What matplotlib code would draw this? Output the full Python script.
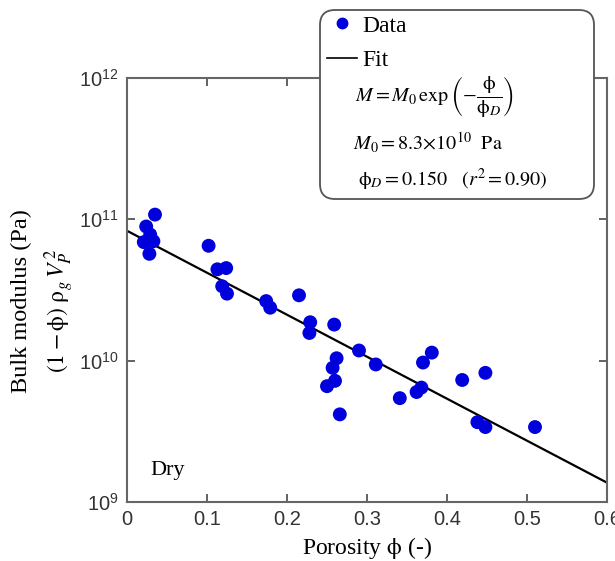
import numpy as np
import matplotlib
matplotlib.use("Agg")
import matplotlib.pyplot as plt
from matplotlib.lines import Line2D
from matplotlib.patches import FancyBboxPatch
from matplotlib.transforms import IdentityTransform
from matplotlib.ticker import FixedLocator, FuncFormatter, NullLocator

plt.rcParams['font.family'] = ['Liberation Sans', 'DejaVu Sans']
plt.rcParams['mathtext.fontset'] = 'dejavusans'

# data
porosity = [0.035, 0.024, 0.029, 0.021, 0.033, 0.028,
            0.102, 0.113, 0.124, 0.119, 0.125, 0.174, 0.179, 0.215,
            0.229, 0.228, 0.259, 0.290, 0.262, 0.257, 0.250, 0.260,
            0.266, 0.311, 0.341, 0.362, 0.368, 0.370, 0.381, 0.419,
            0.448, 0.438, 0.448, 0.510]
modulus = [1.08e11, 8.9e10, 7.8e10, 6.9e10, 7.0e10, 5.7e10,
           6.5e10, 4.43e10, 4.52e10, 3.36e10, 2.98e10, 2.64e10, 2.37e10, 2.90e10,
           1.87e10, 1.57e10, 1.80e10, 1.18e10, 1.04e10, 8.9e9, 6.6e9, 7.2e9,
           4.17e9, 9.4e9, 5.43e9, 6.0e9, 6.45e9, 9.7e9, 1.14e10, 7.3e9,
           8.2e9, 3.67e9, 3.39e9, 3.39e9]

# fit line end points (straight line on log axis)
fit_x = [0.0, 0.6]
fit_y = [8.3e10, 1.37e9]

xticks = [0, 0.1, 0.2, 0.3, 0.4, 0.5, 0.6]
yticks = [1e9, 1e10, 1e11, 1e12]

W, H = 615, 561
fig = plt.figure(figsize=(W / 100, H / 100), dpi=100)
ax = fig.add_axes([127/W, 1 - 502/H, 480/W, 424/H])

ax.scatter(porosity, modulus, s=100, color='#0000dd', edgecolors='none', zorder=3)
ax.plot(fit_x, fit_y, color='black', lw=1.6, zorder=2)

ax.set_yscale('log')
ax.set_xlim(0, 0.6)
ax.set_ylim(1e9, 1e12)
ax.xaxis.set_major_locator(FixedLocator(xticks))
ax.yaxis.set_major_locator(FixedLocator(yticks))
ax.yaxis.set_minor_locator(NullLocator())
ax.xaxis.set_major_formatter(FuncFormatter(lambda v, p: '0' if v == 0 else f'{v:.1f}'))
ax.yaxis.set_major_formatter(FuncFormatter(
    lambda v, p: r'$\mathregular{10^{%d}}$' % round(np.log10(v))))
ax.tick_params(direction='in', length=6, width=1.3, color='#555555',
               labelsize=14.5, labelcolor='#333333', top=True, right=True, pad=6)
for sp in ax.spines.values():
    sp.set_color('#666666')
    sp.set_linewidth(1.5)

serif = ['Liberation Serif', 'DejaVu Serif']
ax.set_xlabel(r'Porosity $\mathrm{\phi}$ (-)', family=serif, fontsize=17,
              math_fontfamily='stix', labelpad=4)
ax.text(-0.219, 0.474, 'Bulk modulus (Pa)', transform=ax.transAxes, rotation=90,
        ha='center', va='center', family=serif, fontsize=17.5)
ax.text(-0.14, 0.45, r'$(1-\mathrm{\phi})\ \mathrm{\rho}_g\,V_P^{\,2}$', transform=ax.transAxes,
        rotation=90, ha='center', va='center', fontsize=17, math_fontfamily='stix')
ax.text(0.048, 0.064, 'Dry', transform=ax.transAxes, family=serif, fontsize=16)

# rounded legend box (covers the top spine like in the original)
box = FancyBboxPatch((320, H - 199), 274, 189, boxstyle='round,pad=0,rounding_size=15',
                     transform=IdentityTransform(), facecolor='white',
                     edgecolor='#555555', linewidth=1.3, zorder=2)
fig.add_artist(box)

handles = [
    Line2D([], [], marker='o', ls='none', color='#0000dd', markersize=7.5),
    Line2D([], [], color='black', lw=1.2),
]
leg = fig.legend(handles, ['Data', 'Fit'], loc='upper left',
                 bbox_to_anchor=(327/W, 1 - 15/H), bbox_transform=fig.transFigure,
                 prop={'family': serif, 'size': 17}, frameon=False,
                 handlelength=1.27, handletextpad=0.22, labelspacing=0.55,
                 borderpad=0, borderaxespad=0)
leg.set_zorder(4)

formulas = [
    r'$M = M_0\,\exp\left(-\dfrac{\mathrm{\phi}}{\mathrm{\phi}_D}\right)$',
    r'$M_0 = 8.3{\times}10^{10}\ \ \mathrm{Pa}$',
    r'$\mathrm{\phi}_D = 0.150\ \ \ (r^2 = 0.90)$',
]
formula_x = [355, 353, 358]
formula_y = [97, 143, 180]
for s, fx, fy in zip(formulas, formula_x, formula_y):
    fig.text(fx / W, 1 - fy / H, s, ha='left', va='center', fontsize=14.5,
             math_fontfamily='stix', zorder=4)

fig.savefig('out.png', dpi=100)
